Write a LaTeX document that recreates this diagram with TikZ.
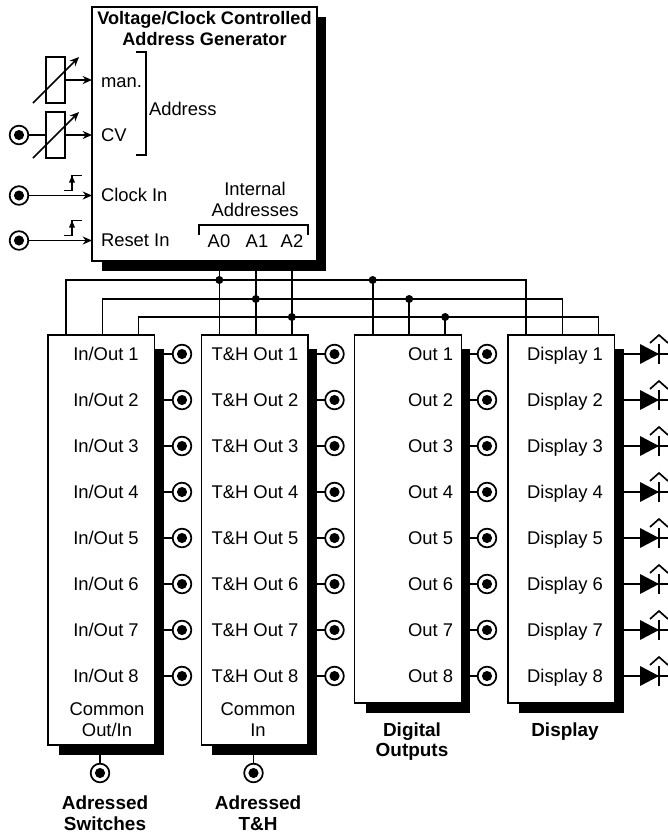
\documentclass[tikz,border=0pt]{standalone}
\usepackage{fontspec}
\setmainfont{Liberation Sans}
\usetikzlibrary{arrows.meta, positioning, backgrounds}

\begin{document}
\begin{tikzpicture}[
    x=0.75pt, y=-0.75pt,
    node distance=35pt,
    every node/.style={inner sep=0pt, outer sep=0pt},
    txt/.style={font=\fontsize{13.8}{15}\selectfont, text height=10pt, text depth=0pt},
    block/.style={rectangle, draw, line width=1.2pt, fill=white, minimum width=80pt, anchor=north west},
    wire/.style={line width=1.25pt},
    feed/.style={wire, -{Stealth[length=7pt, width=6pt]}},
    jack/.style={circle, draw, line width=1.3pt, fill=white, minimum size=14pt,
                 path picture={\fill[black] (path picture bounding box.center) circle (3.8pt);}},
    dot/.style={circle, fill, minimum size=6pt},
    pot/.style={rectangle, draw, line width=1.2pt, minimum width=14.25pt, minimum height=34.5pt},
    lbl/.style={txt, font=\fontsize{13.6}{15}\selectfont\bfseries},
    blocklbl/.style={txt, font=\fontsize{14.2}{15}\selectfont\bfseries}
]
\useasboundingbox (0,0) rectangle (668,833);

% address generator
\node[block, minimum width=168.75pt, minimum height=190.5pt] (gen) at (92,7) {};
\node[lbl] (title1) at (204.5,17.5) {Voltage/Clock Controlled};
\node[lbl] (title2) at (204.5,38.5) {Address Generator};
\node[txt, anchor=west] (man) at (101,81) {man.};
\node[txt, anchor=west] (cv) at (101,135) {CV};
\node[txt, anchor=west] (clock) at (101,195) {Clock In};
\node[txt, anchor=west] (reset) at (101,240) {Reset In};
\node[txt, anchor=west] (address) at (149,108.5) {Address};
\node[txt] (internal) at (255,188.5) {Internal};
\node[txt] (addresses) at (255,210) {Addresses};
\node[txt] (a0) at (219,240.7) {A0};
\node[txt] (a1) at (257,240.7) {A1};
\node[txt] (a2) at (292,240.7) {A2};
\draw[wire] (136,52) -| (146,155) -- (136,155);
\draw[wire] (199,235) |- (308,225) -- (308,235);

% inputs
\node[pot] (potman) at (55.5,80) {};
\node[pot] (potcv) at (55.5,135) {};
\node[jack] (jackcv) at (19,135) {};
\node[jack] (jackclock) at (19,195.5) {};
\node[jack] (jackreset) at (19,240.5) {};
\draw[feed] (potman.east) -- (potman.east -| gen.west);
\draw[feed] (potcv.east) -- (potcv.east -| gen.west);
\draw[wire] (jackcv) -- (potcv);
\draw[feed] (jackclock) -- (jackclock -| gen.west);
\draw[feed] (jackreset) -- (jackreset -| gen.west);
\foreach \n in {potman, potcv}
  \draw[feed] ([shift={(-22.5,23)}]\n.center) -- ([shift={(23.5,-23)}]\n.center);
\foreach \n in {jackclock, jackreset} {
  \draw[wire] ([shift={(45,-5)}]\n.center) -- ++(8,0) -- ++(0,-15) -- ++(10,0);
  \fill ([shift={(50,-13)}]\n.center) -- ++(6,0) -- ++(-3,-7) -- cycle;
}

% lower blocks
\node[block, minimum height=307.5pt] (switches) at (48,335) {};
\node[block, minimum height=307.5pt, right=of switches.north east, anchor=north west] (th) {};
\node[block, minimum height=276pt, right=of th.north east, anchor=north west] (digital) {};
\node[block, minimum height=276pt, right=of digital.north east, anchor=north west] (display) {};

\begin{scope}[on background layer]
  \fill ([shift={(10,10)}]gen.north west) rectangle ([shift={(9,10)}]gen.south east);
  \foreach \b in {switches, th, digital, display}
    \fill ([shift={(11,14)}]\b.north west) rectangle ([shift={(9,10)}]\b.south east);
\end{scope}

\foreach \i [evaluate=\i as \y using int(308+46*\i)] in {1,...,8} {
  \node[txt] (io\i) at (106,\y) {In/Out \i};
  \node[txt] (tho\i) at (255,\y) {T\&H Out \i};
  \node[txt, anchor=east] (out\i) at (453,\y) {Out \i};
  \node[txt] (disp\i) at (565,\y) {Display \i};
  \node[jack] (jackio\i) at (182,\y) {};
  \node[jack] (jackth\i) at (334.5,\y) {};
  \node[jack] (jackout\i) at (487,\y) {};
  \coordinate (led\i) at (640,\y);
  \draw[wire] (jackio\i) -- (jackio\i -| switches.east);
  \draw[wire] (jackth\i) -- (jackth\i -| th.east);
  \draw[wire] (jackout\i) -- (jackout\i -| digital.east);
  \draw[wire] (led\i -| display.east) -- ++(54,0);
  \fill ([shift={(0,10)}]led\i) -- ++(19,-10) -- ++(-19,-10) -- cycle;
  \draw[wire] ([shift={(19,-10)}]led\i) -- ++(0,20);
  \draw[wire] ([shift={(10,-11)}]led\i) -- ++(9,-8) -- ++(9,8);
}

\node[txt] (common1) at (107,708.5) {Common};
\node[txt] (outin) at (107,730) {Out/In};
\node[txt] (common2) at (258,708.5) {Common};
\node[txt] (in) at (258,730) {In};
\node[jack] (jacksw) at (100,773) {};
\node[jack] (jackth) at (253.5,773) {};
\draw[wire] (jacksw) -- (jacksw |- switches.south);
\draw[wire] (jackth) -- (jackth |- th.south);

\node[blocklbl] (sw1) at (105,802.5) {Adressed};
\node[blocklbl] (sw2) at (105,823.5) {Switches};
\node[blocklbl] (th1) at (258,802.5) {Adressed};
\node[blocklbl] (th2) at (258,823.5) {T\&H};
\node[blocklbl] (dig1) at (412,730) {Digital};
\node[blocklbl] (dig2) at (412,750) {Outputs};
\node[blocklbl] (dsp) at (565,730) {Display};

% address bus
\foreach \b in {switches, th, digital, display}
  \foreach \k/\dx in {0/18, 1/54.5, 2/90.5}
    \coordinate (\b\k) at ([xshift=\dx*0.75pt]\b.north west);
\coordinate (bus0) at (300,280);
\coordinate (bus1) at (300,299);
\coordinate (bus2) at (300,317);
\foreach \k in {0,1,2} {
  \draw[wire] (switches\k) |- (bus\k) -| (display\k);
  \draw[wire] (th\k |- gen.south) -- (th\k);
  \draw[wire] (digital\k) -- (digital\k |- bus\k);
  \node[dot] (dota\k) at (th\k |- bus\k) {};
  \node[dot] (dotb\k) at (digital\k |- bus\k) {};
}
\end{tikzpicture}
\end{document}
